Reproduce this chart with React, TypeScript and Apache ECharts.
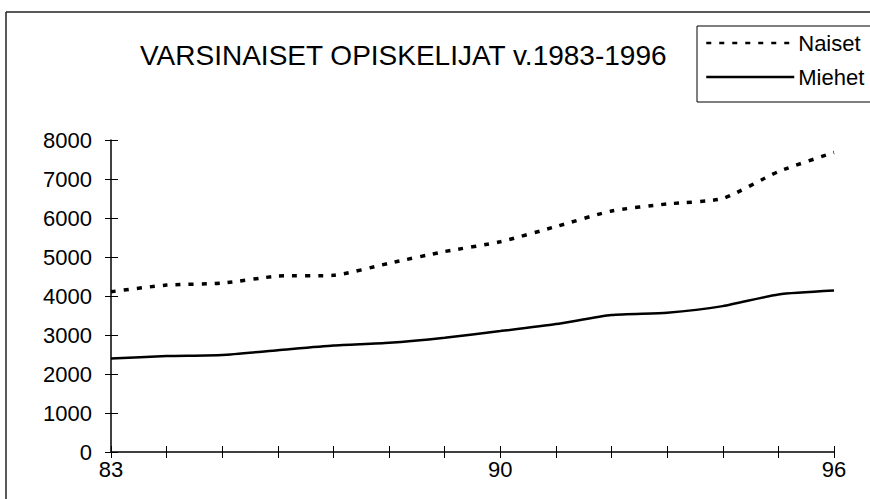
import React, { useEffect, useRef } from "react";
import * as echarts from "echarts";

const years = ["83", "84", "85", "86", "87", "88", "89", "90", "91", "92", "93", "94", "95", "96"];
const shownYearLabels = ["83", "90", "96"];
const naiset = [4110, 4280, 4330, 4510, 4530, 4840, 5140, 5390, 5780, 6180, 6360, 6500, 7190, 7680];
const miehet = [2400, 2460, 2490, 2610, 2730, 2800, 2930, 3100, 3280, 3510, 3570, 3740, 4040, 4140];
const titleText = "VARSINAISET OPISKELIJAT v.1983-1996";
const seriesNames = ["Naiset", "Miehet"];

const FONT = "'Liberation Sans', Arial, Helvetica, sans-serif";

export default function App() {
  const ref = useRef<HTMLDivElement>(null);
  useEffect(() => {
    if (!ref.current) return;
    const chart = echarts.init(ref.current, undefined, { renderer: "svg" });
    const yCommon = { type: "value", min: 0, max: 8000, interval: 1000 };
    chart.setOption({
      animation: false,
      backgroundColor: "#fff",
      textStyle: { fontFamily: FONT, color: "#000" },
      title: {
        text: titleText,
        left: 140,
        top: 40,
        padding: 0,
        textStyle: { fontFamily: FONT, fontSize: 28, fontWeight: "normal", color: "#000", lineHeight: 30 },
      },
      legend: {
        orient: "vertical",
        left: 697,
        top: 26,
        width: 160,
        padding: [5, 7, 13, 8],
        itemGap: 10,
        itemWidth: 88,
        itemHeight: 14,
        itemStyle: { opacity: 0 },
        lineStyle: { width: 2.5 },
        borderColor: "#000",
        borderWidth: 1,
        data: seriesNames,
        textStyle: { fontFamily: FONT, fontSize: 22, color: "#000", lineHeight: 24, padding: [0, 0, 0, -1] },
      },
      grid: { left: 111, right: 36, top: 140, bottom: 47, containLabel: false },
      xAxis: [
        {
          type: "category",
          data: years,
          boundaryGap: false,
          position: "bottom",
          axisLine: { show: true, lineStyle: { color: "#000", width: 1.5 } },
          axisTick: { show: true, inside: false, length: 6, interval: 0, lineStyle: { color: "#000", width: 1 } },
          axisLabel: {
            show: true,
            interval: (_i: number, v: string) => shownYearLabels.includes(v),
            margin: 6,
            fontFamily: FONT,
            fontSize: 22,
            color: "#000",
          },
          splitLine: { show: false },
        },
        {
          type: "category",
          data: years,
          boundaryGap: false,
          position: "bottom",
          axisLine: { show: false },
          axisTick: { show: true, inside: true, length: 6, interval: 0, lineStyle: { color: "#000", width: 1 } },
          axisLabel: { show: false },
          splitLine: { show: false },
        },
      ],
      yAxis: [
        {
          ...yCommon,
          position: "left",
          axisLine: { show: true, lineStyle: { color: "#000", width: 1.5 } },
          axisTick: { show: true, inside: false, length: 6, lineStyle: { color: "#000", width: 1 } },
          axisLabel: { margin: 19, fontFamily: FONT, fontSize: 22, color: "#000", formatter: (v: number) => String(v) },
          splitLine: { show: false },
        },
        {
          ...yCommon,
          position: "left",
          axisLine: { show: false },
          axisTick: { show: true, inside: true, length: 7, lineStyle: { color: "#000", width: 1 } },
          axisLabel: { show: false },
          splitLine: { show: false },
        },
      ],
      series: [
        {
          name: seriesNames[0],
          type: "line",
          data: naiset,
          xAxisIndex: 0,
          yAxisIndex: 0,
          symbol: "none",
          smooth: 0.2,
          lineStyle: { color: "#000", width: 3.5, type: [5, 8] },
          itemStyle: { color: "#000" },
        },
        {
          name: seriesNames[1],
          type: "line",
          data: miehet,
          xAxisIndex: 0,
          yAxisIndex: 0,
          symbol: "none",
          smooth: 0.2,
          lineStyle: { color: "#000", width: 2.5, type: "solid" },
          itemStyle: { color: "#000" },
        },
      ],
      graphic: [
        { type: "line", shape: { x1: 6, y1: 12, x2: 870, y2: 12 }, style: { stroke: "#222", lineWidth: 1.5 } },
        { type: "line", shape: { x1: 6, y1: 12, x2: 6, y2: 499 }, style: { stroke: "#222", lineWidth: 1.5 } },
      ],
    });
    return () => chart.dispose();
  }, []);
  return (
    <div
      ref={ref}
      style={{ position: "fixed", left: 0, top: 0, width: 870, height: 499, background: "#fff" }}
    />
  );
}
